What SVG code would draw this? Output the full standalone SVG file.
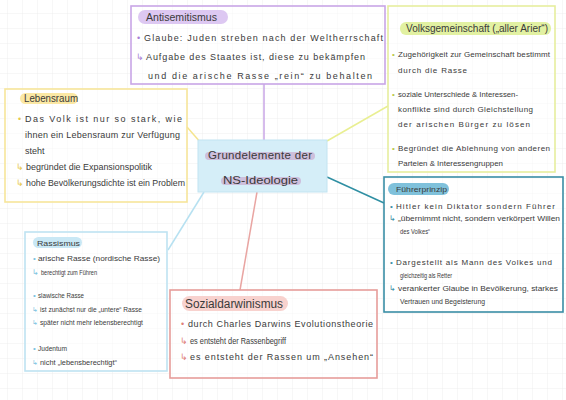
<svg xmlns="http://www.w3.org/2000/svg" width="566" height="400" viewBox="0 0 566 400">
<defs>
<pattern id="grid" x="7" y="13" width="15" height="15" patternUnits="userSpaceOnUse">
<path d="M0 0V15M0 0H15" fill="none" stroke="#ebebeb" stroke-width="0.8"/>
</pattern>
<style>
text{font-family:"Liberation Sans",sans-serif;fill:#3a3a3a;}
.b{font-size:9px;}
.s{font-size:8px;}
.xs{font-size:6.5px;}
.h{font-size:10px;}
.box{fill:#ffffff;fill-opacity:0.45;stroke-width:1.6;}
.conn{fill:none;stroke-width:1.5;}
.pa{fill:#a97fd6;}
.pl{fill:#e6c84e;}
.pt{fill:#3a8ea6;}
.pb{fill:#7cc3e0;}
.pr{fill:#e07f7a;}
.pg{fill:#b9c94a;}
</style>
</defs>
<rect width="566" height="400" fill="#ffffff"/>
<rect width="566" height="400" fill="url(#grid)"/>

<g id="connectors">
<line class="conn" x1="264" y1="84" x2="264" y2="140" stroke="#c9a6e6"/>
<line class="conn" x1="187" y1="127" x2="201" y2="143" stroke="#f5e58e"/>
<line class="conn" x1="327" y1="141" x2="388" y2="106" stroke="#e9ef92"/>
<line class="conn" x1="327" y1="177" x2="384" y2="203" stroke="#2f8fa3"/>
<line class="conn" x1="204" y1="192" x2="168" y2="250" stroke="#b7e1f1"/>
<line class="conn" x1="257" y1="192" x2="240" y2="290" stroke="#e9a5a2"/>
</g>

<g id="antisemitismus">
<rect class="box" x="131" y="6" width="254" height="78" stroke="#c9a6e6"/>
<rect x="138" y="10" width="90" height="14" rx="7" fill="#ddc8f2"/>
<text class="h" x="146" y="21" textLength="71" lengthAdjust="spacingAndGlyphs">Antisemitismus</text>
<text class="b pa" x="137" y="40.5">•</text>
<text class="b" x="144" y="40.5" textLength="239" lengthAdjust="spacing">Glaube: Juden streben nach der Weltherrschaft</text>
<text class="b pa" x="136" y="59.5">↳</text>
<text class="b" x="146" y="59.5" textLength="219" lengthAdjust="spacing">Aufgabe des Staates ist, diese zu bekämpfen</text>
<text class="b" x="148" y="78.5" textLength="224" lengthAdjust="spacing">und die arische Rasse „rein“ zu behalten</text>
</g>

<g id="volksgemeinschaft">
<rect class="box" x="388" y="6" width="167" height="166" stroke="#e6ee9e"/>
<rect x="400" y="22" width="151" height="13" rx="6" fill="#e2f1a2"/>
<text class="h" x="406" y="32" textLength="142" lengthAdjust="spacingAndGlyphs">Volksgemeinschaft („aller Arier“)</text>
<text class="s pg" x="392" y="56.5">•</text>
<text class="s" x="398" y="56.5" textLength="152" lengthAdjust="spacing">Zugehörigkeit zur Gemeinschaft bestimmt</text>
<text class="s" x="398" y="72.5" textLength="69" lengthAdjust="spacing">durch die Rasse</text>
<text class="s pg" x="392" y="96.5">•</text>
<text class="s" x="398" y="96.5" textLength="120" lengthAdjust="spacingAndGlyphs">soziale Unterschiede &amp; Interessen-</text>
<text class="s" x="398" y="111.5" textLength="135" lengthAdjust="spacing">konflikte sind durch Gleichstellung</text>
<text class="s" x="398" y="126.5" textLength="132" lengthAdjust="spacing">der arischen Bürger zu lösen</text>
<text class="s pg" x="392" y="150.5">•</text>
<text class="s" x="398" y="150.5" textLength="152" lengthAdjust="spacing">Begründet die Ablehnung von anderen</text>
<text class="s" x="398" y="165.5" textLength="105" lengthAdjust="spacingAndGlyphs">Parteien &amp; Interessengruppen</text>
</g>

<g id="lebensraum">
<rect class="box" x="5" y="89" width="182" height="113" stroke="#f7e59a"/>
<rect x="20" y="93" width="58" height="11" rx="5.5" fill="#fbe8a4"/>
<text class="h" x="24" y="102" textLength="54" lengthAdjust="spacingAndGlyphs">Lebensraum</text>
<text class="b pl" x="18" y="121.5">•</text>
<text class="b" x="25" y="121.5" textLength="157" lengthAdjust="spacing">Das Volk ist nur so stark, wie</text>
<text class="b" x="25" y="138" textLength="155" lengthAdjust="spacing">ihnen ein Lebensraum zur Verfügung</text>
<text class="b" x="25" y="153.5">steht</text>
<text class="b pl" x="16" y="169.5">↳</text>
<text class="b" x="26" y="169.5" textLength="126" lengthAdjust="spacingAndGlyphs">begründet die Expansionspolitik</text>
<text class="b pl" x="16" y="186">↳</text>
<text class="b" x="26" y="186" textLength="159" lengthAdjust="spacingAndGlyphs">hohe Bevölkerungsdichte ist ein Problem</text>
</g>

<g id="center">
<rect x="198" y="140" width="129" height="52" fill="#d5eef8" stroke="#c2e4f1" stroke-width="1"/>
<rect x="205" y="152" width="110" height="8" rx="4" fill="#cdbfdc"/>
<rect x="221" y="177" width="80" height="8" rx="4" fill="#cdbfdc"/>
<text x="208" y="159" font-size="11.5" textLength="104" lengthAdjust="spacing">Grundelemente der</text>
<text x="223" y="184" font-size="11.5" textLength="75" lengthAdjust="spacingAndGlyphs">NS-Ideologie</text>
</g>

<g id="fuehrerprinzip">
<rect class="box" x="384" y="177" width="179" height="135" stroke="#3a8ea6"/>
<rect x="388" y="183" width="61" height="12" rx="6" fill="#7fc1db"/>
<text class="s" x="396" y="192" textLength="51" lengthAdjust="spacingAndGlyphs">Führerprinzip</text>
<text class="s pt" x="390" y="208.5">•</text>
<text class="s" x="396" y="208.5" textLength="159" lengthAdjust="spacing">Hitler kein Diktator sondern Führer</text>
<text class="s pt" x="389" y="221">↳</text>
<text class="s" x="398" y="221" textLength="162" lengthAdjust="spacingAndGlyphs">„übernimmt nicht, sondern verkörpert Willen</text>
<text class="s" x="400" y="233.5" textLength="30" lengthAdjust="spacingAndGlyphs">des Volkes“</text>
<text class="s pt" x="390" y="264.5">•</text>
<text class="s" x="396" y="264.5" textLength="156" lengthAdjust="spacing">Dargestellt als Mann des Volkes und</text>
<text class="s" x="400" y="277.5" textLength="52" lengthAdjust="spacingAndGlyphs">gleichzeitig als Retter</text>
<text class="s pt" x="389" y="290.5">↳</text>
<text class="s" x="398" y="290.5" textLength="160" lengthAdjust="spacingAndGlyphs">verankerter Glaube in Bevölkerung, starkes</text>
<text class="s" x="400" y="303.5" textLength="85" lengthAdjust="spacingAndGlyphs">Vertrauen und Begeisterung</text>
</g>

<g id="rassismus">
<rect class="box" x="25" y="232" width="142" height="139" stroke="#bfe3f2"/>
<rect x="33" y="237" width="49" height="11" rx="5.5" fill="#c9e8f5"/>
<text class="s" x="37" y="246" textLength="43" lengthAdjust="spacingAndGlyphs">Rassismus</text>
<text class="s pb" x="33" y="261">•</text>
<text class="s" x="38" y="261" textLength="122" lengthAdjust="spacingAndGlyphs">arische Rasse (nordische Rasse)</text>
<text class="s pb" x="32" y="275">↳</text>
<text class="s" x="41" y="275" textLength="56" lengthAdjust="spacingAndGlyphs">berechtigt zum Führen</text>
<text class="s pb" x="33" y="298">•</text>
<text class="s" x="38" y="298" textLength="46" lengthAdjust="spacingAndGlyphs">slawische Rasse</text>
<text class="xs pb" x="32" y="311.5">↳</text>
<text class="xs" x="40" y="311.5" textLength="102" lengthAdjust="spacingAndGlyphs">ist zunächst nur die „untere“ Rasse</text>
<text class="xs pb" x="32" y="324.5">↳</text>
<text class="xs" x="40" y="324.5" textLength="103" lengthAdjust="spacingAndGlyphs">später nicht mehr lebensberechtigt</text>
<text class="s pb" x="33" y="351">•</text>
<text class="s" x="38" y="351" textLength="29" lengthAdjust="spacingAndGlyphs">Judentum</text>
<text class="xs pb" x="32" y="364.5">↳</text>
<text class="xs" x="40" y="364.5" textLength="77" lengthAdjust="spacingAndGlyphs">nicht „lebensberechtigt“</text>
</g>

<g id="sozialdarwinismus">
<rect class="box" x="170" y="290" width="207" height="88" stroke="#e79d9a"/>
<rect x="182" y="296" width="106" height="15" rx="7.5" fill="#f8d2ce"/>
<text x="185" y="308" font-size="12" textLength="98" lengthAdjust="spacingAndGlyphs">Sozialdarwinismus</text>
<text class="b pr" x="181" y="327">•</text>
<text class="b" x="188" y="327" textLength="185" lengthAdjust="spacing">durch Charles Darwins Evolutionstheorie</text>
<text class="b pr" x="180" y="343.5">↳</text>
<text class="b" x="190" y="343.5" textLength="96" lengthAdjust="spacingAndGlyphs">es entsteht der Rassenbegriff</text>
<text class="b pr" x="180" y="360">↳</text>
<text class="b" x="190" y="360" textLength="183" lengthAdjust="spacing">es entsteht der Rassen um „Ansehen“</text>
</g>
</svg>
